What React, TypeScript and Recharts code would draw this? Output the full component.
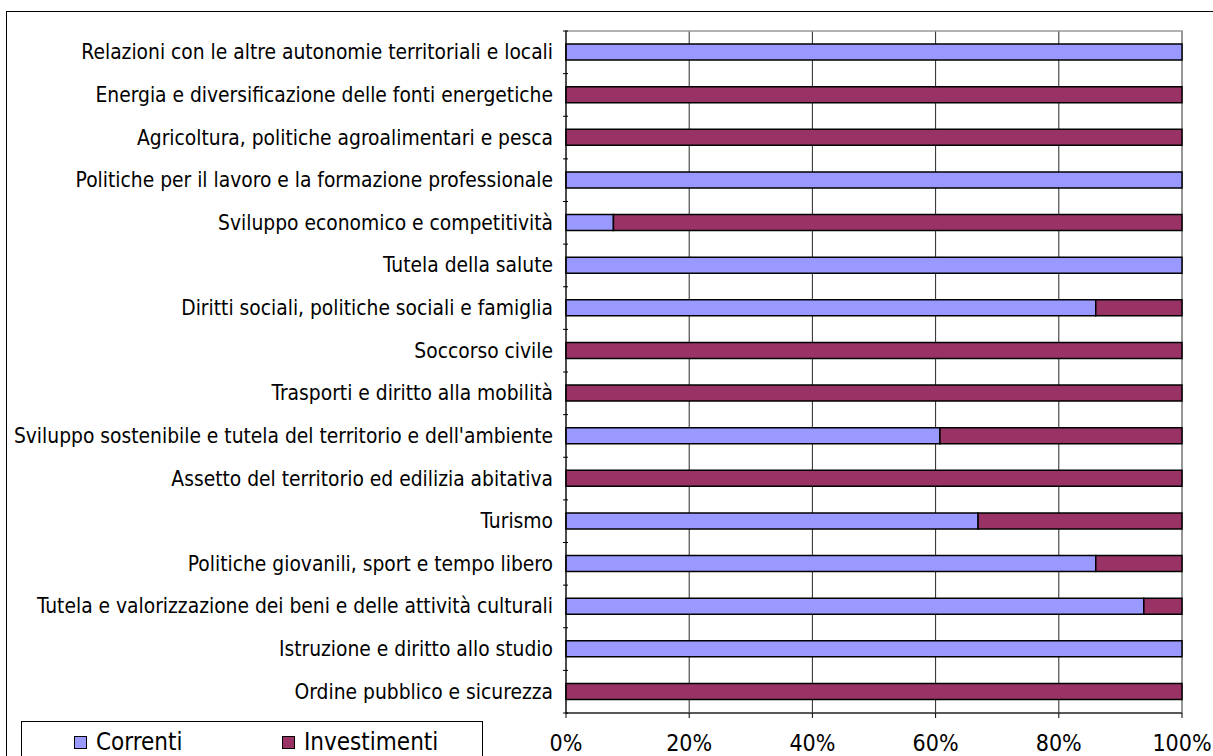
import React from 'react';
import { BarChart, Bar, XAxis, YAxis, CartesianGrid, ReferenceArea } from 'recharts';

const categories = [
  'Relazioni con le altre autonomie territoriali e locali',
  'Energia e diversificazione delle fonti energetiche',
  'Agricoltura, politiche agroalimentari e pesca',
  'Politiche per il lavoro e la formazione professionale',
  'Sviluppo economico e competitività',
  'Tutela della salute',
  'Diritti sociali, politiche sociali e famiglia',
  'Soccorso civile',
  'Trasporti e diritto alla mobilità',
  "Sviluppo sostenibile e tutela del territorio e dell'ambiente",
  'Assetto del territorio ed edilizia abitativa',
  'Turismo',
  'Politiche giovanili, sport e tempo libero',
  'Tutela e valorizzazione dei beni e delle attività  culturali',
  'Istruzione e diritto allo studio',
  'Ordine pubblico e sicurezza',
];
const correnti = [100, 0, 0, 100, 7.7, 100, 86, 0, 0, 60.7, 0, 66.9, 86, 93.8, 100, 0];
const investimenti = correnti.map((c) => 100 - c);
const xTicks = [0, 20, 40, 60, 80, 100];

const data = categories.map((name, i) => ({ name, correnti: correnti[i], investimenti: investimenti[i] }));

const W = 1213;
const H = 756;
const XAXIS_H = 30;
const M = { top: 31, right: 31, bottom: 13, left: 0 };
const BAND = (H - M.top - M.bottom - XAXIS_H) / categories.length;
const FONT = "Tahoma, 'DejaVu Sans Condensed', 'Liberation Sans', sans-serif";

const YTick = (props: any) => {
  const { x, y, payload, index } = props;
  const ax = x + 10;
  return (
    <g>
      <line x1={ax - 5} x2={ax} y1={y - BAND / 2} y2={y - BAND / 2} stroke="#000" />
      {index === categories.length - 1 && (
        <line x1={ax - 5} x2={ax} y1={y + BAND / 2} y2={y + BAND / 2} stroke="#000" />
      )}
      <text x={x - 5} y={y} dy={7} textAnchor="end" fontSize={20.8} fontFamily={FONT} fill="#000">
        {payload.value}
      </text>
    </g>
  );
};

const LegendItem = ({ left, color, label }: { left: number; color: string; label: string }) => (
  <div style={{ position: 'absolute', left, top: 6, display: 'flex', alignItems: 'center', whiteSpace: 'nowrap' }}>
    <span
      style={{
        display: 'inline-block',
        width: 13,
        height: 13,
        boxSizing: 'border-box',
        background: color,
        border: '1.5px solid #000',
        marginRight: 9,
      }}
    />
    <span>{label}</span>
  </div>
);

const LegendBox = () => (
  <div
    style={{
      position: 'absolute',
      left: 21,
      top: 721,
      width: 462,
      height: 60,
      border: '1px solid #000',
      boxSizing: 'border-box',
      fontFamily: FONT,
      fontSize: 24,
      lineHeight: '28px',
      background: '#fff',
    }}
  >
    <LegendItem left={52} color="#9999FF" label="Correnti" />
    <LegendItem left={260} color="#993366" label="Investimenti" />
  </div>
);

export default function App() {
  return (
    <div style={{ position: 'absolute', left: 0, top: 0, width: W, height: H, overflow: 'hidden', background: '#fff' }}>
      <div
        style={{
          position: 'absolute',
          left: 6,
          top: 11,
          width: 1400,
          height: 900,
          border: '1.5px solid #000',
        }}
      />
      <div style={{ position: 'absolute', left: 0, top: 0 }}>
        <BarChart width={W} height={H} data={data} layout="vertical" margin={M} barSize={16}>
          <CartesianGrid horizontal={false} vertical={true} stroke="#000" strokeOpacity={0.85} />
          <ReferenceArea x1={0} x2={100} fill="none" stroke="#999" strokeWidth={1.5} ifOverflow="visible" />
          <XAxis
            type="number"
            domain={[0, 100]}
            ticks={xTicks}
            height={XAXIS_H}
            tickFormatter={(v: number) => `${v}%`}
            axisLine={{ stroke: '#000' }}
            tickLine={{ stroke: '#000' }}
            tickSize={5}
            tickMargin={17}
            tick={{ fontSize: 23, fontFamily: FONT, fill: '#000' }}
            interval={0}
          />
          <YAxis
            type="category"
            dataKey="name"
            width={566}
            axisLine={{ stroke: '#000' }}
            tickLine={false}
            tick={<YTick />}
            interval={0}
          />
          <Bar dataKey="correnti" stackId="a" fill="#9999FF" stroke="#000" strokeWidth={1.5} isAnimationActive={false} />
          <Bar dataKey="investimenti" stackId="a" fill="#993366" stroke="#000" strokeWidth={1.5} isAnimationActive={false} />
        </BarChart>
      </div>
      <LegendBox />
    </div>
  );
}
